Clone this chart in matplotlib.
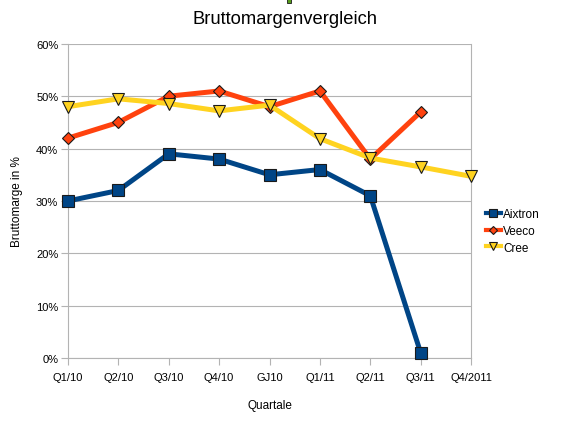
import matplotlib
matplotlib.use('Agg')
import matplotlib.pyplot as plt
from matplotlib.patches import Rectangle
from matplotlib.ticker import FuncFormatter
import numpy as np

plt.rcParams['font.family'] = ['Liberation Sans', 'DejaVu Sans']

quartale = ['Q1/10', 'Q2/10', 'Q3/10', 'Q4/10', 'GJ10', 'Q1/11', 'Q2/11', 'Q3/11', 'Q4/2011']
aixtron = [30, 32, 39, 38, 35, 36, 31, 1, None]
veeco = [42, 45, 50, 51, 48, 51, 38, 47, None]
cree = [48, 49.5, 48.6, 47.2, 48.3, 41.9, 38.2, 36.5, 34.7]

series = [
    ('Aixtron', aixtron, '#004586', 's', 9),
    ('Veeco', veeco, '#ff420e', 'D', 6.5),
    ('Cree', cree, '#ffd320', 'v', 9),
]

fig = plt.figure(figsize=(5.71, 4.27), dpi=100)
ax = fig.add_axes([0.119, 0.159, 0.706, 0.736])

x = np.arange(len(quartale))
for name, vals, col, mk, ms in series:
    y = np.array([np.nan if v is None else v for v in vals], dtype=float)
    ax.plot(x, y, color=col, linewidth=3.6, marker=mk, markersize=ms,
            markerfacecolor=col, markeredgecolor='#1a1a1a', markeredgewidth=0.8,
            label=name, solid_joinstyle='round', clip_on=False, zorder=3)

ax.set_xlim(0, len(quartale) - 1)
ax.set_ylim(0, 60)
ax.set_xticks(x)
ax.set_xticklabels(quartale, fontsize=8)
ax.set_yticks(np.arange(0, 61, 10))
ax.yaxis.set_major_formatter(FuncFormatter(lambda v, p: '%d%%' % v))
ax.tick_params(axis='y', labelsize=8, length=5, color='#b3b3b3', pad=2)
ax.tick_params(axis='x', labelsize=8, length=5, color='#b3b3b3', pad=5)
ax.grid(axis='y', color='#b3b3b3', linewidth=0.8)
ax.set_axisbelow(True)
for s in ['left', 'bottom', 'right']:
    ax.spines[s].set_color('#b3b3b3')
    ax.spines[s].set_linewidth(0.8)
ax.spines['top'].set_visible(False)

ax.set_xlabel('Quartale', fontsize=8.5, labelpad=12)
ax.set_ylabel('Bruttomarge in %', fontsize=8.5, labelpad=9)
fig.text(0.5, 0.955, 'Bruttomargenvergleich', ha='center', va='center', fontsize=13.2)

leg = ax.legend(loc='center left', bbox_to_anchor=(1.01, 0.405), frameon=False,
                fontsize=8.5, handlelength=1.3, handletextpad=0.2, labelspacing=0.4,
                markerscale=0.6)
for ln in leg.get_lines():
    ln.set_linewidth(3)

# kleines gruenes Kaestchen oben (Rest eines Legendensymbols)
fig.patches.append(Rectangle((0.502, 0.99), 0.007, 0.012, transform=fig.transFigure,
                             facecolor='#579d1c', edgecolor='#1a1a1a', linewidth=0.6))

fig.savefig('out.png', dpi=100)
